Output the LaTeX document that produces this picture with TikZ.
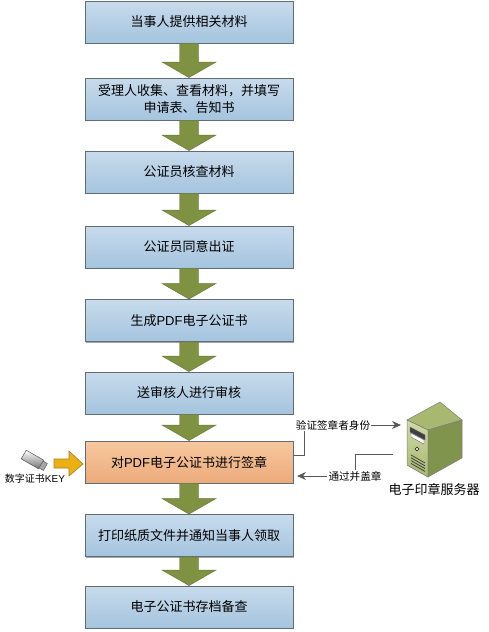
\documentclass[tikz,border=0pt]{standalone}
\usepackage{fontspec}
\setmainfont{Noto Sans CJK SC}
\newfontfamily\latinf{Liberation Sans}
\usetikzlibrary{arrows.meta,shadows,calc}
\definecolor{boxline}{RGB}{98,108,118}
\definecolor{bluetop}{RGB}{200,219,236}
\definecolor{bluebot}{RGB}{164,196,222}
\definecolor{orgtop}{RGB}{247,200,160}
\definecolor{orgbot}{RGB}{236,170,122}
\definecolor{olive}{RGB}{126,146,66}
\definecolor{olived}{RGB}{100,118,60}
\definecolor{srvlight}{RGB}{208,218,165}
\definecolor{srvmid}{RGB}{168,184,112}
\definecolor{srvdark}{RGB}{128,148,78}
\definecolor{gold}{RGB}{236,176,20}
\definecolor{goldd}{RGB}{165,130,40}
\tikzset{x=1pt,y=-1pt,
 flowbox/.style={draw=boxline,line width=0.9pt,minimum width=208pt,minimum height=42pt,inner sep=1pt,
   align=center,font=\fontsize{13}{17}\selectfont,top color=bluetop,bottom color=bluebot,
   general shadow={shadow xshift=1pt,shadow yshift=-1.2pt,fill=black!35}},
 signbox/.style={flowbox,top color=orgtop,bottom color=orgbot},
 flowarrow/.style={fill=olive,draw=olived,line width=0.4pt},
 smalltxt/.style={font=\fontsize{10.6}{12}\selectfont,inner sep=1pt,fill=white},
 serverlabel/.style={font=\fontsize{13}{15}\selectfont,inner sep=0pt},
 keylabel/.style={font=\fontsize{10}{11}\selectfont,inner sep=0pt},
 link/.style={draw=black!65,line width=0.8pt},
 linktip/.style={link,-{Stealth[length=9pt,width=8pt]}},
 srvedge/.style={draw=black!50,line width=0.5pt}
}
\newcommand{\flowdown}[2]{%
 \path let \p1=(#1.south), \p2=(#2.north) in
 [flowarrow] (\x1-9.5pt,\y1) -- (\x1+9.5pt,\y1) -- (\x1+9.5pt,\y2+15.5pt) -- (\x1+27pt,\y2+15.5pt) -- (\x2,\y2) -- (\x1-27pt,\y2+15.5pt) -- (\x1-9.5pt,\y2+15.5pt) -- cycle;}
\begin{document}
\begin{tikzpicture}
\useasboundingbox (0,0) rectangle (488,632);
\node[flowbox] (a) at (189,22) {当事人提供相关材料};
\node[flowbox] (b) at (189,99) {受理人收集、查看材料，并填写\\申请表、告知书};
\node[flowbox] (c) at (189,172) {公证员核查材料};
\node[flowbox] (d) at (189,247) {公证员同意出证};
\node[flowbox] (e) at (189,320.5) {生成{\latinf PDF}电子公证书};
\node[flowbox] (f) at (189,393) {送审核人进行审核};
\node[signbox] (g) at (189,462) {对{\latinf PDF}电子公证书进行签章};
\node[flowbox] (h) at (189,535.5) {打印纸质文件并通知当事人领取};
\node[flowbox] (i) at (189,607) {电子公证书存档备查};
\flowdown{a}{b}\flowdown{b}{c}\flowdown{c}{d}\flowdown{d}{e}\flowdown{e}{f}\flowdown{f}{g}\flowdown{g}{h}\flowdown{h}{i}
% server
\filldraw[srvedge,fill=srvmid] (407,420) -- (440,402) -- (462,420) -- (428,430) -- cycle;
\filldraw[srvedge,top color=srvlight,bottom color=srvmid] (407,420) -- (428,430) -- (428,477) -- (407,465) -- cycle;
\filldraw[srvedge,fill=srvdark] (428,430) -- (462,420) -- (462,458) -- (428,477) -- cycle;
\filldraw[fill=black!75,draw=black!60,line width=0.4pt] (410,427) -- (425,435) -- (425,440) -- (410,432) -- cycle;
\filldraw[fill=white,draw=black!60,line width=0.4pt] (411,433) -- (424,440) -- (424,444) -- (411,437) -- cycle;
\filldraw[fill=white,draw=black!80,line width=0.7pt] (417,449) circle (1.8);
\foreach \k in {0,2.8,5.6,8.4}{\draw[black!75,line width=0.8pt] (411,455+\k) -- (425,463+\k);}
\node[serverlabel] (srvtxt) at (434,489) {电子印章服务器};
\coordinate (srvin) at (401,425);
\coordinate (srvout) at (393,454);
% connectors
\node[smalltxt] (ver) at (333,425) {验证签章者身份};
\draw[link] (g.east) ++(0,-7) -- (304,455) -- (ver.south -| 304,0);
\draw[linktip] (ver.east) -- (srvin);
\node[smalltxt] (pass) at (355,476) {通过并盖章};
\draw[link] (srvout) -- (355,454) -- (pass.north);
\draw[linktip] (pass.west) -- (297,476);
% key
\coordinate (keyc) at (35,461);
\begin{scope}[shift={(keyc)}]
 \filldraw[rotate=-30,draw=black!60,line width=0.5pt,top color=white,bottom color=black!55] (-13,-5) rectangle (7,5);
 \filldraw[rotate=-30,draw=black!60,line width=0.5pt,fill=black!35] (7,-4) rectangle (12,4);
\end{scope}
\node[keylabel] (keytxt) at (35,479) {数字证书{\latinf KEY}};
\filldraw[draw=goldd,line width=0.6pt,fill=gold] (54,459) -- (69,459) -- (69,451) -- (83,464) -- (69,476) -- (69,468) -- (54,468) -- cycle;
\end{tikzpicture}
\end{document}
